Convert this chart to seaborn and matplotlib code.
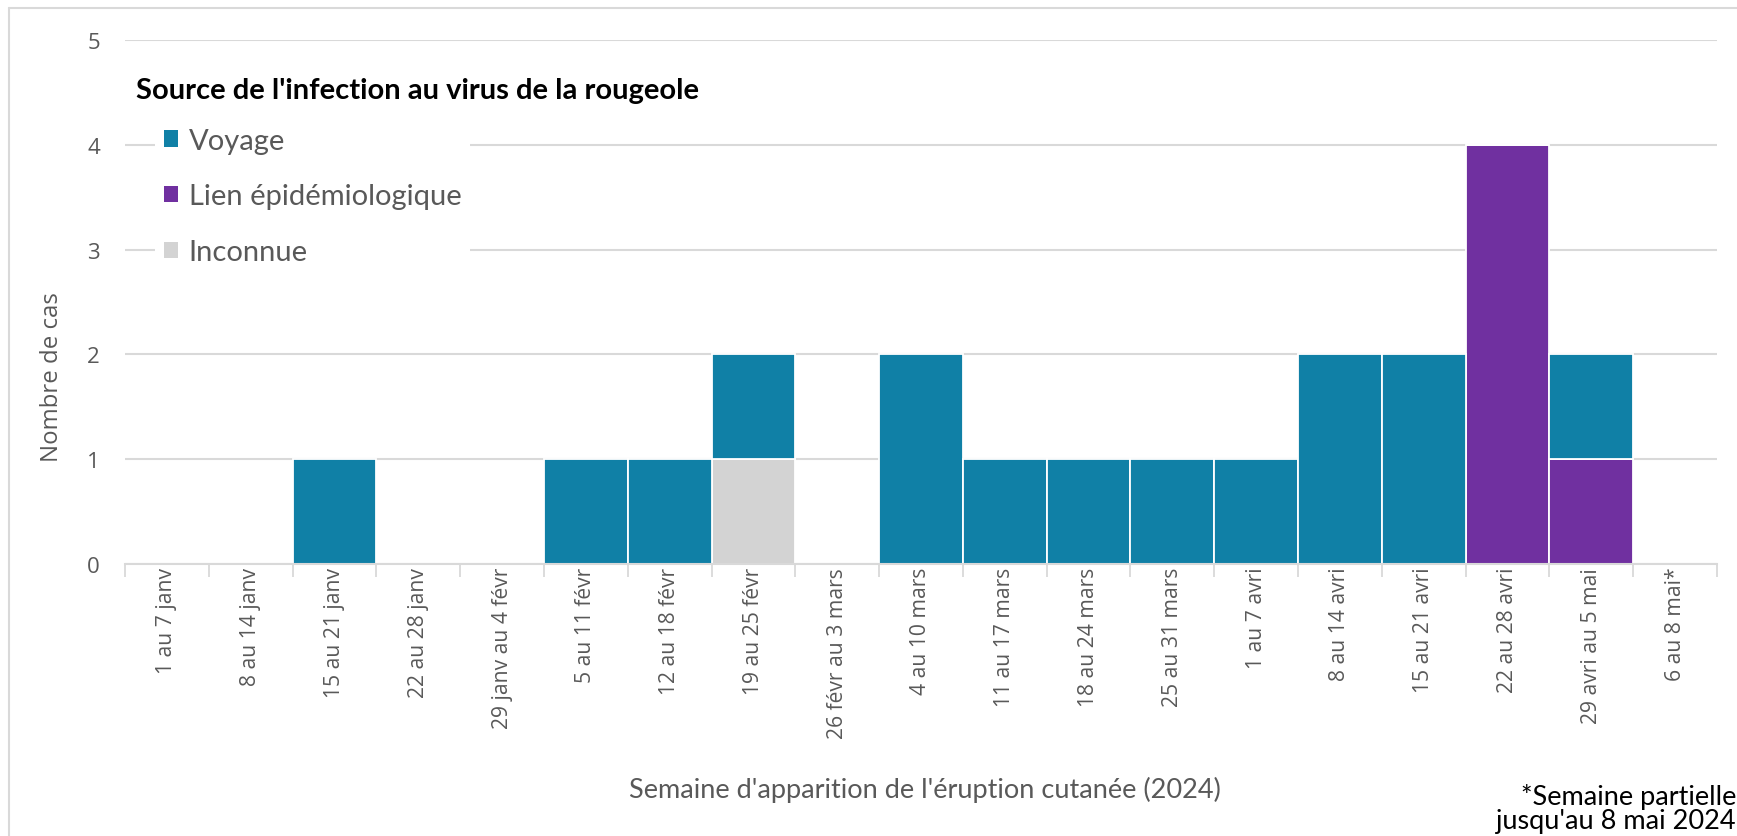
import numpy as np
import matplotlib
matplotlib.use("Agg")
import matplotlib.pyplot as plt
import seaborn as sns
from matplotlib.patches import Patch
from matplotlib.lines import Line2D

# ---------------- data ----------------
weeks = ["1 au 7 janv", "8 au 14 janv", "15 au 21 janv", "22 au 28 janv",
         "29 janv au 4 févr", "5 au 11 févr", "12 au 18 févr", "19 au 25 févr",
         "26 févr au 3 mars", "4 au 10 mars", "11 au 17 mars", "18 au 24 mars",
         "25 au 31 mars", "1 au 7 avri", "8 au 14 avri", "15 au 21 avri",
         "22 au 28 avri", "29 avri au 5 mai", "6 au 8 mai*"]
voyage   = [0, 0, 1, 0, 0, 1, 1, 1, 0, 2, 1, 1, 1, 1, 2, 2, 0, 1, 0]
lien     = [0, 0, 0, 0, 0, 0, 0, 0, 0, 0, 0, 0, 0, 0, 0, 0, 4, 1, 0]
inconnue = [0, 0, 0, 0, 0, 0, 0, 1, 0, 0, 0, 0, 0, 0, 0, 0, 0, 0, 0]
series_labels = ["Voyage", "Lien épidémiologique", "Inconnue"]
yticks = [0, 1, 2, 3, 4, 5]

title = "Source de l'infection au virus de la rougeole"
xlabel = "Semaine d'apparition de l'éruption cutanée (2024)"
ylabel = "Nombre de cas"
note1 = "*Semaine partielle"
note2 = "jusqu'au 8 mai 2024"

# ---------------- style ----------------
C_VOY = "#1080A6"
C_LIEN = "#7030A0"
C_INC = "#D3D3D3"
GRAY = "#595959"
GRID = "#D9D9D9"
CAL = ["Lato", "DejaVu Sans"]

sns.set_theme(style="white")
plt.rcParams["font.family"] = ["Open Sans", "DejaVu Sans"]

fig = plt.figure(figsize=(17.37, 8.37), dpi=100)
ax = fig.add_axes([125 / 1737, 1 - 565 / 837, (1717 - 125) / 1737, (565 - 41) / 837])

lien_a = np.array(lien)
inc_a = np.array(inconnue)
voy_a = np.array(voyage)

common = dict(order=weeks, width=1.0, saturation=1, edgecolor="white",
              linewidth=1.3, ax=ax, errorbar=None)
sns.barplot(x=weeks, y=lien_a, color=C_LIEN, **common)
sns.barplot(x=weeks, y=inc_a, bottom=lien_a, color=C_INC, **common)
sns.barplot(x=weeks, y=voy_a, bottom=lien_a + inc_a, color=C_VOY, **common)

ax.set_xlim(-0.5, len(weeks) - 0.5)
ax.set_ylim(0, 5)
ax.set_yticks(yticks)
ax.set_yticklabels([str(v) for v in yticks], fontsize=16, color=GRAY)
ax.set_xticks(range(len(weeks)))
ax.set_xticklabels(weeks, rotation=90, fontsize=15.2, color=GRAY)
ax.set_xticks(np.arange(-0.5, len(weeks), 1), minor=True)
ax.tick_params(axis="x", which="major", length=0, pad=2)
ax.tick_params(axis="x", which="minor", length=9, width=1.3, color=GRID, bottom=True)
ax.tick_params(axis="y", length=0, pad=18)
ax.set_axisbelow(True)
ax.yaxis.grid(True, color=GRID, linewidth=1.5)
ax.xaxis.grid(False)
for s in ["left", "right", "top"]:
    ax.spines[s].set_visible(False)
ax.spines["bottom"].set_color(GRID)
ax.spines["bottom"].set_linewidth(1.5)
ax.set_xlabel("")
ax.set_ylabel("")

# legend
handles = [Patch(facecolor=c, edgecolor="none", label=l)
           for c, l in zip([C_VOY, C_LIEN, C_INC], series_labels)]
leg = ax.legend(handles=handles, loc="upper left",
                bbox_to_anchor=(155 / 1737, 1 - 120 / 837),
                bbox_transform=fig.transFigure, frameon=True, facecolor="white",
                edgecolor="none", framealpha=1, fancybox=False,
                prop={"family": CAL, "size": 21},
                handlelength=0.5, handleheight=0.5, handletextpad=0.35,
                labelspacing=1.02, borderpad=0.3, borderaxespad=0)
for t in leg.get_texts():
    t.set_color(GRAY)

# texts
fig.text(136 / 1737, 1 - 91 / 837, title, fontsize=21, fontweight="bold",
         family=CAL, color="black", va="center", ha="left")
fig.text(925 / 1737, 1 - 790 / 837, xlabel, fontsize=19.5,
         family=CAL, color=GRAY, va="center", ha="center")
fig.text(52 / 1737, 1 - 377 / 837, ylabel, fontsize=17.3, rotation=90,
         color=GRAY, va="center", ha="center")
fig.text(1736 / 1737, 1 - 797 / 837, note1, fontsize=19.5,
         family=CAL, color="black", va="center", ha="right")
fig.text(1736 / 1737, 1 - 822 / 837, note2, fontsize=19.5,
         family=CAL, color="black", va="center", ha="right")

# outer border (left and top edges visible)
fig.add_artist(Line2D([9 / 1737, 9 / 1737], [0, 1 - 9 / 837], color=GRID,
                      linewidth=1.5, transform=fig.transFigure))
fig.add_artist(Line2D([9 / 1737, 1], [1 - 9 / 837, 1 - 9 / 837], color=GRID,
                      linewidth=1.5, transform=fig.transFigure))

fig.savefig("out.png", dpi=100, facecolor="white")
